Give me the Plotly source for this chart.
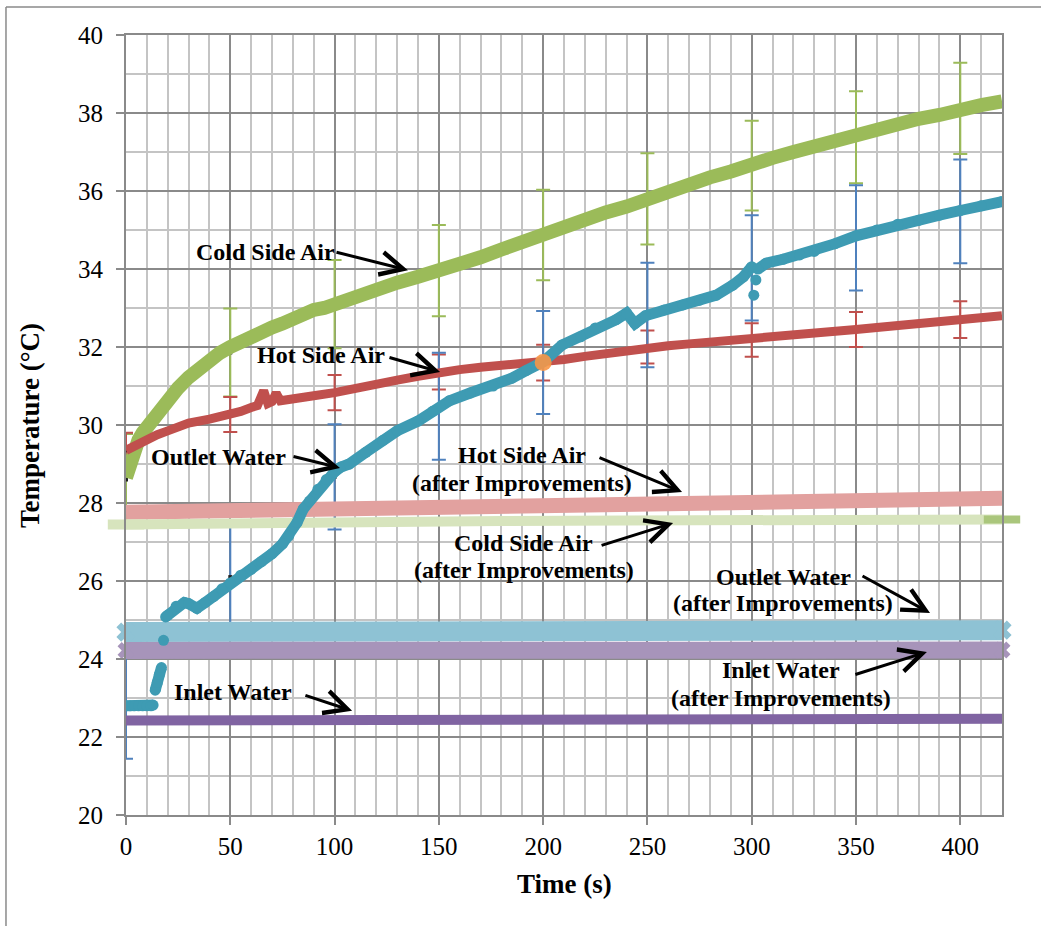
import plotly.graph_objects as go

# ---------------- measured series (time in s, temperature in °C) ----------------
cold_t = [0, 2, 4, 6, 8, 10, 12, 15, 20, 25, 30, 35, 40, 45, 50, 55, 60, 65, 70, 75, 80, 85, 90, 95,
          100, 110, 120, 130, 140, 150, 160, 170, 180, 190, 200, 210, 220, 230, 240, 250, 260, 270,
          280, 290, 300, 310, 320, 330, 340, 350, 360, 370, 380, 390, 400, 410, 420]
cold_v = [28.65, 29.1, 29.4, 29.62, 29.8, 29.95, 30.08, 30.3, 30.62, 30.95, 31.22, 31.45, 31.65, 31.85,
          32.0, 32.15, 32.3, 32.4, 32.5, 32.6, 32.75, 32.85, 32.95, 33.0, 33.1, 33.3, 33.45, 33.65,
          33.8, 33.95, 34.15, 34.3, 34.5, 34.7, 34.9, 35.05, 35.25, 35.45, 35.6, 35.8, 35.95, 36.15,
          36.35, 36.5, 36.7, 36.85, 37.0, 37.15, 37.25, 37.4, 37.55, 37.7, 37.85, 37.95, 38.1, 38.2, 38.3]

hot_t = [0, 5, 10, 15, 20, 25, 30, 40, 50, 55, 60, 63, 66, 68, 70, 72, 74, 80, 90, 100, 110, 120,
         130, 140, 150, 160, 170, 180, 190, 200, 210, 220, 230, 240, 250, 260, 270, 280, 290, 300,
         310, 320, 330, 340, 350, 360, 370, 380, 390, 400, 410, 420]
hot_v = [29.35, 29.5, 29.65, 29.75, 29.85, 29.95, 30.05, 30.15, 30.27, 30.35, 30.45, 30.5, 30.88,
         30.55, 30.6, 30.82, 30.62, 30.65, 30.75, 30.83, 30.95, 31.05, 31.15, 31.25, 31.35, 31.42,
         31.48, 31.52, 31.56, 31.6, 31.68, 31.76, 31.84, 31.92, 32.0, 32.03, 32.08, 32.12, 32.16,
         32.2, 32.25, 32.3, 32.35, 32.4, 32.45, 32.5, 32.55, 32.6, 32.65, 32.7, 32.75, 32.8]

# None entries mark breaks where the logged points are not joined
outlet_t = [0, 2, 4, 6, 8, 10, 12, 13, 13.5, 14, 15, 16, 17, 17.5, 18, 18.5, 19, 20, 24, 28, 30, 34,
            38, 42, 46, 50, 55, 60, 65, 70, 75, 78, 82, 85, 88, 92, 96, 100, 103, 107, 115, 123, 130,
            140, 147, 155, 165, 176, 185, 192, 200, 209, 218, 225, 235, 240, 244, 249, 258, 267, 275,
            283, 291, 296, 300, 300.5, 301, 301.5, 302, 302.5, 303, 307, 315, 323, 330, 340, 350, 360,
            370, 380, 390, 400, 410, 420]
outlet_v = [22.8, 22.8, 22.8, 22.8, 22.8, 22.8, 22.8, 22.82, None, 23.2, 23.4, 23.6, 23.78, None,
            24.48, None, 25.08, 25.12, 25.35, 25.45, 25.42, 25.3, 25.45, 25.6, 25.8, 25.95, 26.15,
            26.3, 26.5, 26.7, 26.95, 27.15, 27.5, 27.85, 28.05, 28.35, 28.6, 28.8, 28.92, 29.0, 29.3,
            29.6, 29.85, 30.1, 30.35, 30.62, 30.82, 31.0, 31.2, 31.4, 31.62, 32.05, 32.26, 32.49, 32.7,
            32.87, 32.6, 32.8, 32.95, 33.08, 33.2, 33.33, 33.59, 33.8, 34.06, None, 33.33, None, 33.72,
            None, 34.0, 34.15, 34.25, 34.36, 34.45, 34.65, 34.85, 35.0, 35.15, 35.25, 35.38, 35.5,
            35.62, 35.73]

inlet_t = [0, 60, 120, 180, 240, 300, 360, 420]
inlet_v = [22.42, 22.43, 22.44, 22.44, 22.45, 22.45, 22.46, 22.47]

# runs after the improvements
after_t = [0, 60, 120, 180, 240, 300, 360, 420]
hot_after_v = [27.76, 27.82, 27.88, 27.94, 27.99, 28.04, 28.08, 28.12]
cold_after_v = [27.45, 27.5, 27.53, 27.54, 27.55, 27.56, 27.57, 27.58]
outlet_after_v = [24.69, 24.7, 24.71, 24.72, 24.72, 24.73, 24.73, 24.74]
inlet_after_v = [24.22, 24.22, 24.23, 24.23, 24.23, 24.23, 24.23, 24.23]

# averaged points with their spread
err_t = [0, 50, 100, 150, 200, 250, 300, 350, 400]
cold_mean = [28.6, 31.86, 33.1, 33.96, 34.87, 35.8, 36.65, 37.38, 38.12]
cold_sd = [1.17, 1.13, 1.13, 1.17, 1.16, 1.17, 1.15, 1.18, 1.17]
hot_mean = [29.35, 30.27, 30.83, 31.36, 31.6, 32.0, 32.18, 32.45, 32.7]
hot_sd = [0.45, 0.45, 0.45, 0.45, 0.46, 0.42, 0.43, 0.45, 0.47]
outlet_mean = [22.8, 26.1, 28.67, 30.48, 31.6, 32.82, 34.03, 34.8, 35.48]
outlet_sd = [1.36, 1.35, 1.35, 1.37, 1.32, 1.34, 1.35, 1.35, 1.33]

cross_t = [200]
cross_v = [31.6]

FONT = "Liberation Serif"
C_COLD, C_HOT, C_OUT, C_IN = "#9BBB59", "#C0504D", "#3E9BB3", "#8064A2"

fig = go.Figure()


def err_trace(mean, sd, color):
    fig.add_trace(go.Scatter(
        x=err_t, y=mean, mode="markers",
        marker=dict(symbol="square", size=4, color="#202020"),
        error_y=dict(type="data", array=sd, symmetric=True, color=color, thickness=2, width=7),
        hoverinfo="skip"))


err_trace(cold_mean, cold_sd, C_COLD)
err_trace(hot_mean, hot_sd, C_HOT)
err_trace(outlet_mean, outlet_sd, "#4F81BD")

# bands recorded after the improvements
fig.add_trace(go.Scatter(x=after_t, y=hot_after_v, mode="lines",
                         line=dict(color="#E2A19F", width=15)))
fig.add_trace(go.Scatter(x=after_t, y=cold_after_v, mode="lines",
                         line=dict(color="#D7E4BD", width=10)))
fig.add_trace(go.Scatter(x=[after_t[0]], y=[cold_after_v[0]], mode="markers", cliponaxis=False,
                         marker=dict(symbol="line-ew", size=26, line=dict(color="#D7E4BD", width=10))))
fig.add_trace(go.Scatter(x=[after_t[-1]], y=[cold_after_v[-1]], mode="markers", cliponaxis=False,
                         marker=dict(symbol="line-ew", size=26, line=dict(color="#AAC67C", width=8))))
fig.add_trace(go.Scatter(x=after_t, y=outlet_after_v, mode="lines",
                         line=dict(color="#8EC2D4", width=20)))
fig.add_trace(go.Scatter(x=[after_t[0], after_t[-1]], y=[outlet_after_v[0], outlet_after_v[-1]],
                         mode="markers", cliponaxis=False,
                         marker=dict(symbol="x", size=17, color="#8EC2D4")))
fig.add_trace(go.Scatter(x=after_t, y=inlet_after_v, mode="lines",
                         line=dict(color="#A794BA", width=17)))
fig.add_trace(go.Scatter(x=[after_t[0], after_t[-1]], y=[inlet_after_v[0], inlet_after_v[-1]],
                         mode="markers", cliponaxis=False,
                         marker=dict(symbol="x", size=15, color="#A794BA")))

# original runs
fig.add_trace(go.Scatter(x=inlet_t, y=inlet_v, mode="lines", line=dict(color=C_IN, width=10)))
fig.add_trace(go.Scatter(x=cold_t, y=cold_v, mode="lines", line=dict(color=C_COLD, width=14)))
fig.add_trace(go.Scatter(x=hot_t, y=hot_v, mode="lines", line=dict(color=C_HOT, width=9)))
fig.add_trace(go.Scatter(x=outlet_t, y=outlet_v, mode="lines+markers", connectgaps=False,
                         line=dict(color=C_OUT, width=11),
                         marker=dict(symbol="circle", size=11, color=C_OUT)))
fig.add_trace(go.Scatter(x=cross_t, y=cross_v, mode="markers",
                         marker=dict(symbol="circle", size=17, color="#F79646", opacity=0.9)))

# labels (one entry per text line) and arrows
labels = [
    ("Cold Side Air", 66.7, 34.44),
    ("Hot Side Air", 93.5, 31.8),
    ("Outlet Water", 44.3, 29.19),
    ("Inlet Water", 51.3, 23.15),
    ("Hot Side Air", 189.9, 29.23),
    ("(after Improvements)", 189.9, 28.51),
    ("Cold Side Air", 190.6, 26.97),
    ("(after Improvements)", 190.6, 26.28),
    ("Outlet Water", 315.0, 26.10),
    ("(after Improvements)", 315.0, 25.44),
    ("Inlet Water", 314.0, 23.72),
    ("(after Improvements)", 314.0, 23.0),
]
annotations = []
for text, x, y in labels:
    annotations.append(dict(text="<b>" + text + "</b>", x=x, y=y, xref="x", yref="y",
                            showarrow=False, xanchor="center", yanchor="middle",
                            font=dict(family=FONT, size=24, color="black")))

arrows = [
    (100.2, 34.44, 135.2, 33.97),
    (125.6, 31.74, 150.6, 31.36),
    (79.6, 29.2, 102.6, 28.9),
    (85.3, 23.08, 108.4, 22.67),
    (226.3, 29.18, 266.6, 28.28),
    (227.3, 26.9, 262.3, 27.49),
    (352.4, 26.15, 385.5, 25.18),
    (349.0, 23.59, 384.0, 24.18),
]
for tx, ty, hx, hy in arrows:
    annotations.append(dict(text="", x=hx, y=hy, ax=tx, ay=ty, xref="x", yref="y",
                            axref="x", ayref="y", showarrow=True, arrowhead=5,
                            arrowsize=1.5, arrowwidth=3, arrowcolor="black"))

annotations.append(dict(text="<b>Time (s)</b>", x=0.501, y=-0.0885, xref="paper", yref="paper",
                        showarrow=False, xanchor="center", yanchor="middle",
                        font=dict(family=FONT, size=27, color="black")))
annotations.append(dict(text="<b>Temperature (°C)</b>", x=-0.1096, y=0.5, xref="paper",
                        yref="paper", showarrow=False, textangle=-90, xanchor="center",
                        yanchor="middle", font=dict(family=FONT, size=27, color="black")))

axis_common = dict(
    showgrid=True, gridcolor="#8A8A8A", gridwidth=2,
    showline=True, linecolor="#8A8A8A", linewidth=2, mirror=True,
    ticks="outside", ticklen=8, tickcolor="#8A8A8A", tickwidth=2,
    zeroline=False, tickfont=dict(family=FONT, size=25, color="black"),
)

fig.update_layout(
    width=1041, height=926, autosize=False,
    margin=dict(l=126, r=39, t=35, b=111),
    paper_bgcolor="white", plot_bgcolor="white",
    showlegend=False,
    xaxis=dict(range=[0, 420], tick0=0, dtick=50, ticklabelstandoff=0,
               minor=dict(dtick=10, showgrid=True, gridcolor="#C4C4C4", gridwidth=2, ticks=""),
               **axis_common),
    yaxis=dict(range=[20, 40], tick0=20, dtick=2, ticklabelstandoff=8,
               minor=dict(dtick=1, showgrid=True, gridcolor="#C4C4C4", gridwidth=2, ticks=""),
               **axis_common),
    annotations=annotations,
    shapes=[
        dict(type="line", xref="paper", yref="paper", x0=-0.137, x1=-0.137, y0=1.0359, y1=-0.15,
             line=dict(color="#8A8A8A", width=1.5)),
        dict(type="line", xref="paper", yref="paper", x0=-0.137, x1=1.05, y0=1.0359, y1=1.0359,
             line=dict(color="#8A8A8A", width=1.5)),
    ],
)

fig.write_html("out.html")
